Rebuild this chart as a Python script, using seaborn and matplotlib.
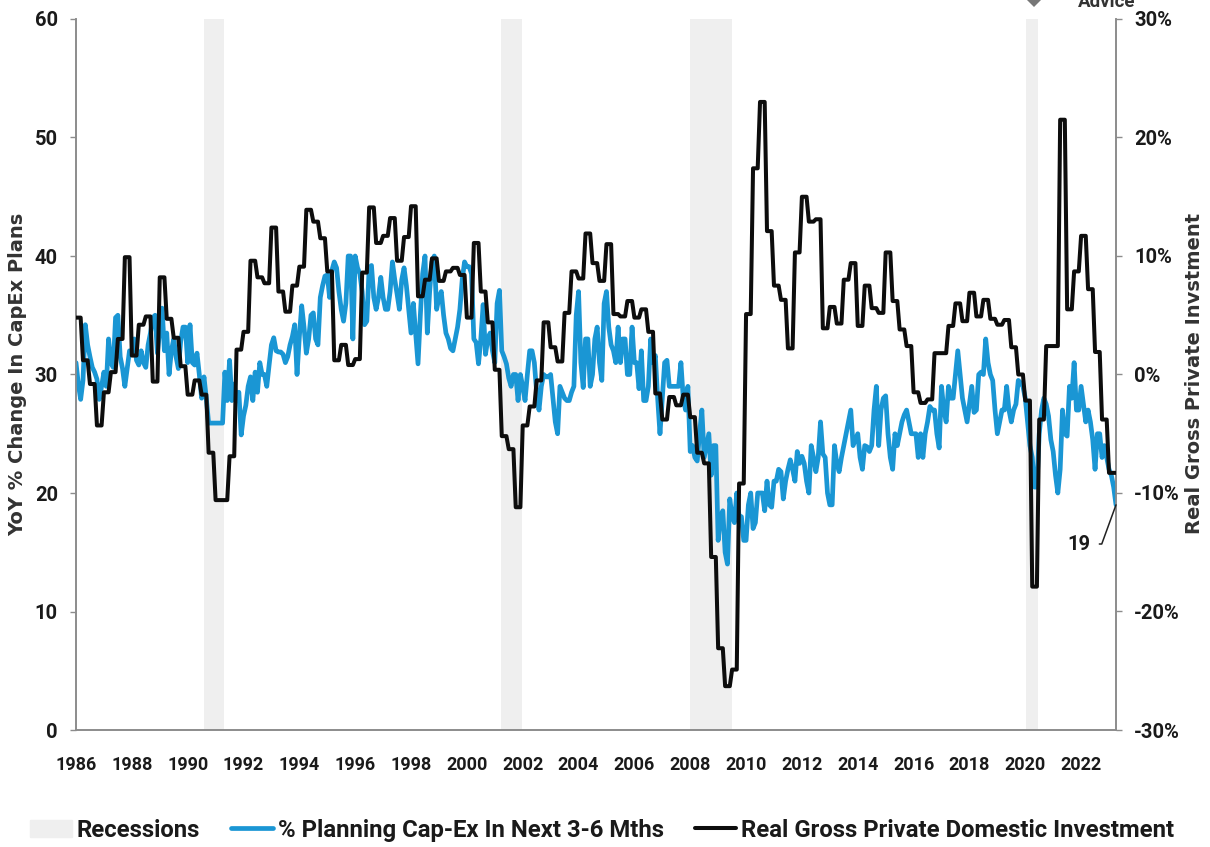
import numpy as np
import pandas as pd
import seaborn as sns
import matplotlib
matplotlib.use("Agg")
import matplotlib.pyplot as plt
from matplotlib.patches import Patch, Polygon

# Monthly % planning cap-ex, Jan 1986 to Apr 2023
capex_1986_1989 = [31.0,29.2,27.9,29.5,34.2,32.5,31.5,30.6,30.2,29.6,27.9,29.0,
                   30.2,29.0,33.0,31.0,30.6,34.8,35.0,31.5,30.5,29.0,30.5,32.0,
                   31.8,33.0,31.2,30.8,32.0,31.0,30.6,32.5,33.5,34.8,35.0,31.8,
                   33.8,35.6,32.0,33.5,30.0,32.0,33.0,31.5,30.5,32.8,34.0,34.0]
capex_1990_1994 = [31.0,34.2,31.0,30.8,31.8,30.0,28.0,29.8,28.0,25.9,25.9,25.9,
                   25.9,25.9,25.9,25.9,30.2,27.8,31.2,27.8,29.2,27.8,28.5,24.9,
                   26.5,27.4,29.0,29.8,27.8,30.2,28.5,31.0,30.0,30.0,29.0,30.8,
                   32.5,33.1,32.0,31.9,31.9,31.7,31.0,31.5,32.5,33.2,34.2,30.0,
                   33.2,35.8,34.0,31.8,33.0,35.0,35.2,33.0,32.5,36.5,37.5,38.3]
capex_1995_1999 = [38.4,36.5,38.8,39.5,39.0,37.0,35.5,34.5,36.0,40.0,40.0,33.0,
                   40.0,39.0,38.5,37.0,34.2,34.5,39.0,39.2,36.5,35.5,36.5,38.2,
                   36.5,35.5,35.5,37.0,39.5,38.0,36.8,35.5,38.0,39.0,37.5,35.5,
                   33.5,36.0,33.5,30.9,35.0,38.5,40.0,33.5,37.0,39.5,40.0,35.5,
                   36.5,37.0,35.0,33.5,33.0,32.2,32.0,33.0,34.0,35.5,38.0,39.5]
capex_2000_2004 = [39.1,39.1,38.5,33.0,32.7,30.9,33.0,35.9,31.7,33.0,33.5,32.0,
                   31.0,36.0,37.1,32.0,31.5,30.9,29.7,29.0,30.0,30.0,27.8,30.0,
                   29.0,27.8,30.0,32.0,32.0,31.0,28.5,27.0,29.0,30.0,29.8,29.8,
                   30.0,28.0,26.0,25.0,29.0,28.5,28.0,27.8,27.8,28.5,29.0,35.0,
                   37.0,31.0,28.9,33.0,33.0,29.0,30.0,33.0,34.0,31.0,29.5,36.0]
capex_2005_2009 = [37.0,34.0,32.5,32.0,31.0,34.0,31.0,33.0,33.0,30.0,30.0,34.0,
                   31.0,31.0,28.8,32.0,27.8,27.8,29.0,33.0,31.0,31.6,28.0,25.0,
                   28.0,31.0,31.2,29.0,29.0,29.0,29.0,29.0,31.0,28.0,27.0,29.0,
                   23.5,24.0,23.0,22.7,25.0,27.0,23.0,24.0,25.0,21.5,24.0,24.0,
                   16.0,18.0,18.5,15.0,14.0,19.5,18.0,17.5,20.0,18.0,18.0,16.0]
capex_2010_2014 = [16.0,19.0,20.0,17.0,17.5,20.0,20.0,20.0,18.5,21.0,19.0,18.8,
                   21.0,21.0,22.0,21.8,19.5,21.0,22.0,22.8,22.0,21.0,23.5,22.5,
                   23.1,22.5,21.0,20.0,24.0,23.0,21.8,23.0,26.0,23.3,23.0,20.0,
                   19.0,19.0,24.0,22.5,21.8,23.0,24.0,25.0,26.0,27.0,24.0,24.5,
                   25.0,23.0,22.0,24.0,23.9,23.5,24.0,27.0,29.0,24.0,27.0,28.0]
capex_2015_2019 = [28.2,25.0,23.0,22.0,25.0,24.0,25.0,26.0,26.6,27.0,26.0,25.0,
                   25.0,25.0,23.0,25.0,23.0,25.0,26.0,27.3,27.0,27.0,25.0,23.8,
                   29.0,27.0,26.0,29.0,28.0,28.0,30.0,32.0,30.0,28.0,27.0,26.0,
                   27.5,29.0,26.8,27.0,30.0,30.2,30.0,33.0,31.0,30.0,29.5,27.0,
                   25.0,26.0,27.0,27.0,29.0,27.0,26.0,27.0,27.5,29.5,29.3,29.0]
capex_2020_2023 = [28.0,26.0,24.0,23.0,20.5,20.5,25.0,27.0,28.0,27.5,26.5,24.5,
                   23.5,21.5,20.0,22.0,27.0,25.0,24.8,29.0,28.0,31.0,27.0,27.0,
                   29.0,27.5,26.0,27.0,26.0,24.5,22.0,25.0,25.0,23.0,24.0,23.0,
                   22.0,21.5,20.5,19.0]

# Quarterly real gross private domestic investment, % YoY
invest_1986_1995 = [4.8,1.2,-0.8,-4.3,-1.5,0.2,3.0,9.9,1.6,4.2,4.9,-0.6,8.2,4.7,3.1,0.7,
                    -1.7,-0.5,-1.7,-6.6,-10.6,-10.6,-6.9,2.1,3.6,9.6,8.2,7.7,12.4,7.0,5.3,7.5,
                    9.1,13.9,12.9,11.5,8.7,1.2,2.5,0.8]
invest_1996_2005 = [1.3,8.6,14.1,11.1,11.7,13.2,9.6,11.6,14.2,6.6,8.0,9.8,7.9,8.7,9.0,8.4,
                    4.8,11.1,7.0,4.4,0.4,-5.2,-6.3,-11.2,-4.3,-2.7,-0.5,4.4,2.3,1.1,5.2,8.7,
                    8.1,11.9,9.4,7.9,11.0,5.1,4.9,6.2]
invest_2006_2015 = [4.8,5.5,3.6,-1.6,-3.8,-1.9,-2.6,-1.7,-3.6,-6.6,-7.5,-15.4,-23.1,-26.3,-24.9,-9.2,
                    5.1,17.4,23.0,12.1,7.5,6.3,2.2,10.3,15.0,12.9,13.1,3.9,5.7,4.3,8.0,9.4,
                    4.1,7.5,5.6,5.2,10.3,6.2,3.8,2.4]
invest_2016_2023 = [-1.5,-2.4,-2.1,1.8,1.8,4.1,6.0,4.5,6.9,4.9,6.3,4.7,4.2,4.6,2.3,0.0,
                    -2.2,-17.9,-3.8,2.4,2.4,21.5,5.5,8.7,11.7,7.2,1.9,-3.8,-8.3,-8.3]

recession_starts = [1990.6, 2001.22, 2008.0, 2020.03]
recession_ends = [1991.31, 2001.97, 2009.5, 2020.46]
year_ticks = list(range(1986, 2023, 2))
left_ticks = [0, 10, 20, 30, 40, 50, 60]
right_ticks = [-30, -20, -10, 0, 10, 20, 30]

label_capex = "% Planning Cap-Ex In Next 3-6 Mths"
label_invest = "Real Gross Private Domestic Investment"

capex = np.concatenate([capex_1986_1989, capex_1990_1994, capex_1995_1999, capex_2000_2004,
                        capex_2005_2009, capex_2010_2014, capex_2015_2019, capex_2020_2023])
invest_q = np.concatenate([invest_1986_1995, invest_1996_2005, invest_2006_2015, invest_2016_2023])
invest = np.repeat(invest_q, 3)[:len(capex)]
time = 1986 + np.arange(len(capex)) / 12
df = pd.DataFrame({"t": time, "capex": capex, "invest": invest})

sns.set_theme(style="white")
FONT = ["Roboto", "DejaVu Sans"]
plt.rcParams["font.family"] = FONT
BLUE, BLACK, GRAY, BAND = "#1a96d4", "#0d0d0d", "#8c8c8c", "#efefef"

W, H = 1210, 847
fig = plt.figure(figsize=(W / 100, H / 100), dpi=100, facecolor="white")
ax = fig.add_axes([76 / W, 1 - 730 / H, (1116 - 76) / W, (730 - 19) / H])
ax2 = ax.twinx()

for a, b in zip(recession_starts, recession_ends):
    ax.axvspan(a, b, color=BAND, lw=0, zorder=0)

sns.lineplot(data=df, x="t", y="capex", ax=ax, color=BLUE, lw=3.4, errorbar=None, zorder=3)
sns.lineplot(data=df, x="t", y="invest", ax=ax2, color=BLACK, lw=2.9, errorbar=None, zorder=4)

ax.set_xlim(1986, time[-1])
ax.set_ylim(0, 60)
ax2.set_ylim(-30, 30)
ax.set_xticks(year_ticks)
ax.set_yticks(left_ticks)
ax2.set_yticks(right_ticks)
ax2.set_yticklabels([f"{v}%" for v in right_ticks])
ax.set_xlabel("")
ax.set_ylabel("")
ax2.set_ylabel("")

for a in (ax, ax2):
    a.grid(False)
    a.spines["top"].set_visible(False)
    for s in a.spines.values():
        s.set_color(GRAY)
        s.set_linewidth(1.2)
TC = "#1a1a1a"
ax.tick_params(axis="x", direction="out", length=5, width=1, color=GRAY, pad=14, labelsize=13, labelcolor=TC)
ax.tick_params(axis="y", direction="out", length=4, width=1, color=GRAY, pad=9, labelsize=14.5, labelcolor=TC)
ax2.tick_params(axis="y", direction="out", length=4, width=1, color=GRAY, pad=9, labelsize=14.5, labelcolor=TC)
for lab in ax.get_xticklabels() + ax.get_yticklabels() + ax2.get_yticklabels():
    lab.set_fontweight("bold")

fig.text(18 / W, 1 - 374 / H, "YoY % Change In CapEx Plans", rotation=90, ha="center", va="center",
         family="DejaVu Sans", fontweight="bold", fontsize=14, color="#333333")
fig.text(1195 / W, 1 - 373 / H, "Real Gross Private Invstment", rotation=90, ha="center", va="center",
         family="DejaVu Sans", fontweight="bold", fontsize=14, color="#333333")

ax2.annotate("19", xy=(time[-1], capex[-1] - 30), xycoords="data",
             xytext=(1079 / W, 1 - 544 / H), textcoords="figure fraction",
             ha="center", va="center", fontsize=14.5, fontweight="bold", color=TC,
             arrowprops=dict(arrowstyle="-", color="#222222", lw=1.1, shrinkA=4, shrinkB=0,
                             connectionstyle="angle,angleA=0,angleB=70,rad=0"))

fig.text(1107 / W, 1 - 2 / H, "Advice", ha="center", va="center", fontsize=13.5, fontweight="bold",
         family="Roboto", color="#333333")
fig.add_artist(Polygon([[1027 / W, 1], [1041 / W, 1], [1034 / W, 1 - 7 / H]], closed=True,
                       transform=fig.transFigure, fc="#777777", ec="none"))

handles = [Patch(color=BAND, label="Recessions"),
           ax.get_lines()[0], ax2.get_lines()[0]]
handles[1].set_label(label_capex)
handles[2].set_label(label_invest)
for a in (ax, ax2):
    if a.get_legend():
        a.get_legend().remove()
fig.legend(handles=handles, labels=[h.get_label() for h in handles], ncol=3, frameon=False,
           loc="center left", bbox_to_anchor=(30 / W, 1 - 830 / H), borderaxespad=0, borderpad=0,
           prop={"family": FONT, "weight": "bold", "size": 17.2},
           labelcolor=TC, handlelength=1.75, handletextpad=0.2, columnspacing=1.3)

fig.savefig("out.png", dpi=100, facecolor="white")
